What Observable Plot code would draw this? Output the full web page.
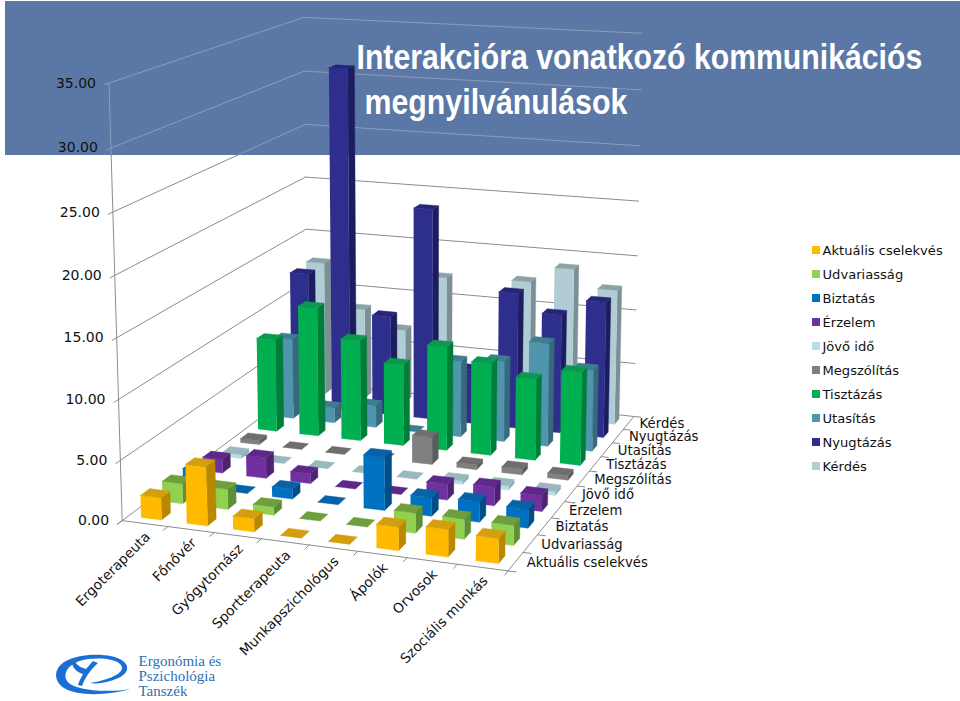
<!DOCTYPE html>
<html><head><meta charset="utf-8">
<style>html,body{margin:0;padding:0;background:#fff}svg{display:block}</style>
<script src="https://cdn.jsdelivr.net/npm/d3@7"></script>
<script src="https://cdn.jsdelivr.net/npm/@observablehq/plot@0.6"></script>
</head><body><div id="chart"></div>
<script>
const categories = ["Ergoterapeuta","Főnővér","Gyógytornász","Sportterapeuta","Munkapszichológus","Ápolók","Orvosok","Szociális munkás"];
const seriesNames = ["Aktuális cselekvés","Udvariasság","Biztatás","Érzelem","Jövő idő","Megszólítás","Tisztázás","Utasítás","Nyugtázás","Kérdés"];
const aktualis   = [1.85,4.9,1.1,0,0,1.9,2.2,2.0];
const udvariassag= [1.7,1.7,0.7,0,0,1.65,1.65,1.65];
const biztatas   = [1.5,0,0.85,0,4.5,1.55,1.7,1.55];
const erzelem    = [1.2,1.8,0.85,0,0,1.35,1.6,1.35];
const jovoIdo    = [0.35,0,0,0,0,0.3,0.35,0.35];
const megszolitas= [0.35,0,0,0,2.4,0.4,0.5,0.4];
const tisztazas  = [8.4,11.7,9.1,7.3,9.3,8.2,7.2,8.2];
const utasitas   = [7.4,1.4,2.0,0,6.9,7.3,9.3,7.3];
const nyugtazas  = [12.5,31.6,9.2,19.4,5,12.4,10.8,12.3];
const kerdes     = [12.6,8.5,6.9,12.2,4,12.5,14,12.4];
const table = [aktualis,udvariassag,biztatas,erzelem,jovoIdo,megszolitas,tisztazas,utasitas,nyugtazas,kerdes];
const frontColors = ["#FFBA00","#92D050","#0070C0","#7030A0","#B7DEE8","#808080","#00B050","#4F95AB","#2E2E8C","#B0CCD4"];
const sideColors  = ["#B98800","#5F8F34","#004E86","#4E2270","#8FAEB5","#5C5C5C","#007D39","#38697A","#1C1C5E","#7C8F94"];
const topColors   = ["#D49F0F","#6F9F3C","#0862A8","#5D2888","#9AB8C0","#6E6E6E","#0A9A4F","#3F7D90","#25257A","#8BA2A6"];
const yTicks = [0,5,10,15,20,25,30,35];
const zMax = 35;

// camera: floor unit square + height, fitted to the chart's box corners
const anchors = [
 [0,0,0,122,518],[0,0,1,107,83],[0,1,0,306,384],[0,1,1,305,16],
 [1,1,0,633,414],[1,1,1,640,33],[1,0,0,508,572],[0,0,20/35,115,275],[1,1,20/35,640,201]];
function fit(){
  const A=[],B=[];
  for(const [X,Y,Z,x0,y0] of anchors){const x=x0/1000,y=y0/1000;
    A.push([X,Y,Z,1,0,0,0,0,-x*X,-x*Y,-x*Z]);B.push(x);
    A.push([0,0,0,0,X,Y,Z,1,-y*X,-y*Y,-y*Z]);B.push(y);}
  const n=11,M=d3.range(n).map(i=>d3.range(n+1).map(j=>{let s=0;A.forEach((r,k)=>{s+=r[i]*(j<n?r[j]:B[k]);});return s;}));
  for(let c=0;c<n;c++){let p=c;for(let r=c+1;r<n;r++)if(Math.abs(M[r][c])>Math.abs(M[p][c]))p=r;
    [M[c],M[p]]=[M[p],M[c]];
    for(let r=0;r<n;r++)if(r!==c){const f=M[r][c]/M[c][c];for(let k=c;k<=n;k++)M[r][k]-=f*M[c][k];}}
  return M.map((r,i)=>r[n]/r[i]);
}
const P=fit();
function proj(u,v,h){const Z=h/zMax,w=P[8]*u+P[9]*v+P[10]*Z+1;
  return [1000*(P[0]*u+P[1]*v+P[2]*Z+P[3])/w,1000*(P[4]*u+P[5]*v+P[6]*Z+P[7])/w];}

const nU=categories.length,nV=seriesNames.length;
const barW=0.45,barD=0.42;
const polys=[];let pid=0;
function poly(pts,c){const id=pid++;pts.forEach(p=>{const [x,y]=proj(...p);polys.push({id,x,y,c});});}
for(let j=nV-1;j>=0;j--)for(let i=0;i<nU;i++){
  const h=table[j][i];
  const u0=(i+(1-barW)/2)/nU,u1=(i+(1+barW)/2)/nU,v0=(j+(1-barD)/2)/nV,v1=(j+(1+barD)/2)/nV;
  if(h>0){
    poly([[u1,v0,0],[u1,v1,0],[u1,v1,h],[u1,v0,h]],sideColors[j]);
    poly([[u0,v0,0],[u1,v0,0],[u1,v0,h],[u0,v0,h]],frontColors[j]);
  }
  poly([[u0,v0,h],[u1,v0,h],[u1,v1,h],[u0,v1,h]],topColors[j]);
}

// grid and axes
const bannerBottom=155;
const dark=[],light=[];let lid=0;
function seg(a,b){
  const p=proj(...a),q=proj(...b);
  const id=lid++;
  const push=(arr,s,t)=>{arr.push({id,x:s[0],y:s[1]},{id,x:t[0],y:t[1]});};
  const pa=p[1]<bannerBottom,qa=q[1]<bannerBottom;
  if(pa&&qa)push(light,p,q);
  else if(!pa&&!qa)push(dark,p,q);
  else{const t=(bannerBottom-p[1])/(q[1]-p[1]);const m=[p[0]+t*(q[0]-p[0]),bannerBottom];
    if(pa){push(light,p,m);push(dark,m,q);}else{push(dark,p,m);push(light,m,q);}}
}
for(const t of yTicks){seg([0,-0.02,t],[0,1,t]);seg([0,1,t],[1,1,t]);}
seg([0,0,0],[0,0,zMax]);
seg([0,0,0],[1,0,0]);seg([1,0,0],[1,1,0]);
for(let i=0;i<=nU;i++)seg([i/nU,0,0],[i/nU,-0.022,0]);
for(let j=0;j<=nV;j++)seg([1,j/nV,0],[1.02,j/nV,0]);

const yLabels=yTicks.map(t=>{const [x,y]=proj(0,0,t);return {x:x-13,y,t:t.toFixed(2)};});
const catLabels=categories.map((c,i)=>{const [x,y]=proj((i+.5)/nU,0,0);return {x:x+3,y:y+11,c};});
const rowLabels=seriesNames.map((s,j)=>{const [x,y]=proj(1,(j+.5)/nV,0);return {x:x+11,y:y+1,s};});
const legend=seriesNames.map((s,j)=>({s,c:frontColors[j],y:250+j*24}));
const titleLines=[{t:"Interakcióra vonatkozó kommunikációs",x:356,y:57,w:566},{t:"megnyilvánulások",x:364,y:102,w:263}];
const logoLines=[{t:"Ergonómia és",y:661},{t:"Pszichológia",y:676},{t:"Tanszék",y:691}];
const F="DejaVu Sans, Verdana, sans-serif";

function logo(){
  const g=d3.create("svg:g").attr("fill","#1a6fd4").attr("stroke","none");
  g.append("path").attr("d","M131 689 C110 695 78 697 64 688 C52 680 54 666 68 660 C84 653 112 653 123 661 C132 668 126 677 110 681 C104 683 96 684 90 683 C104 681 122 675 122 668 C122 660 104 657 88 659 C74 661 63 669 66 679 C70 691 108 693 131 689Z");
  g.append("path").attr("d","M78 685 L82 686 C85 678 90 670 98 663 L93 661 C90 664 88 667 86 669 C82 668 78 666 75 662 L72 664 C74 670 79 673 83 674 C81 678 79 681 78 685Z");
  return g.node();
}

const plot=Plot.plot({
  width:960,height:701,margin:0,
  x:{type:"identity",axis:null},y:{type:"identity",axis:null},
  style:{background:"#fff"},
  marks:[
    Plot.rect([{}],{x1:()=>5,x2:()=>960,y1:()=>1,y2:()=>bannerBottom,fill:"#5A77A6"}),
    Plot.line(light,{x:"x",y:"y",z:"id",stroke:"#8b9cbb",strokeWidth:1}),
    Plot.line(dark,{x:"x",y:"y",z:"id",stroke:"#8c8c8c",strokeWidth:1}),
    Plot.text(titleLines,{x:"x",y:"y",text:"t",textAnchor:"start",fill:"#fff",fontFamily:"Liberation Sans, Arial, sans-serif",fontWeight:"bold",fontSize:36,className:"chart-title"}),
    Plot.line(polys,{x:"x",y:"y",z:"id",fill:"c",stroke:"c",strokeWidth:0.4}),
    Plot.text(yLabels,{x:"x",y:"y",text:"t",textAnchor:"end",fontFamily:F,fontSize:14,fill:"#111"}),
    Plot.text(catLabels,{x:"x",y:"y",text:"c",textAnchor:"end",rotate:-45,fontFamily:F,fontSize:13.7,fill:"#111"}),
    Plot.text(rowLabels,{x:"x",y:"y",text:"s",textAnchor:"start",fontFamily:F,fontSize:13.2,fill:"#111"}),
    Plot.rect(legend,{x1:()=>812,x2:()=>820,y1:d=>d.y-4,y2:d=>d.y+4,fill:"c"}),
    Plot.text(legend,{x:()=>822,y:"y",text:"s",textAnchor:"start",fontFamily:F,fontSize:13.1,fill:"#111"}),
    logo,
    Plot.text(logoLines,{x:()=>138,y:"y",text:"t",textAnchor:"start",fontFamily:"Liberation Serif, serif",fontSize:15,fill:"#2f6fb5"})
  ]
});
document.getElementById("chart").append(plot);
// the reference's title is set in a condensed face: squeeze each line to its measured width
d3.select(plot).selectAll(".chart-title text").each(function(_,k){
  const s=titleLines[k].w/this.getComputedTextLength();
  const el=d3.select(this);
  el.attr("transform",(el.attr("transform")||"")+` scale(${s},1)`);
});
</script></body></html>
